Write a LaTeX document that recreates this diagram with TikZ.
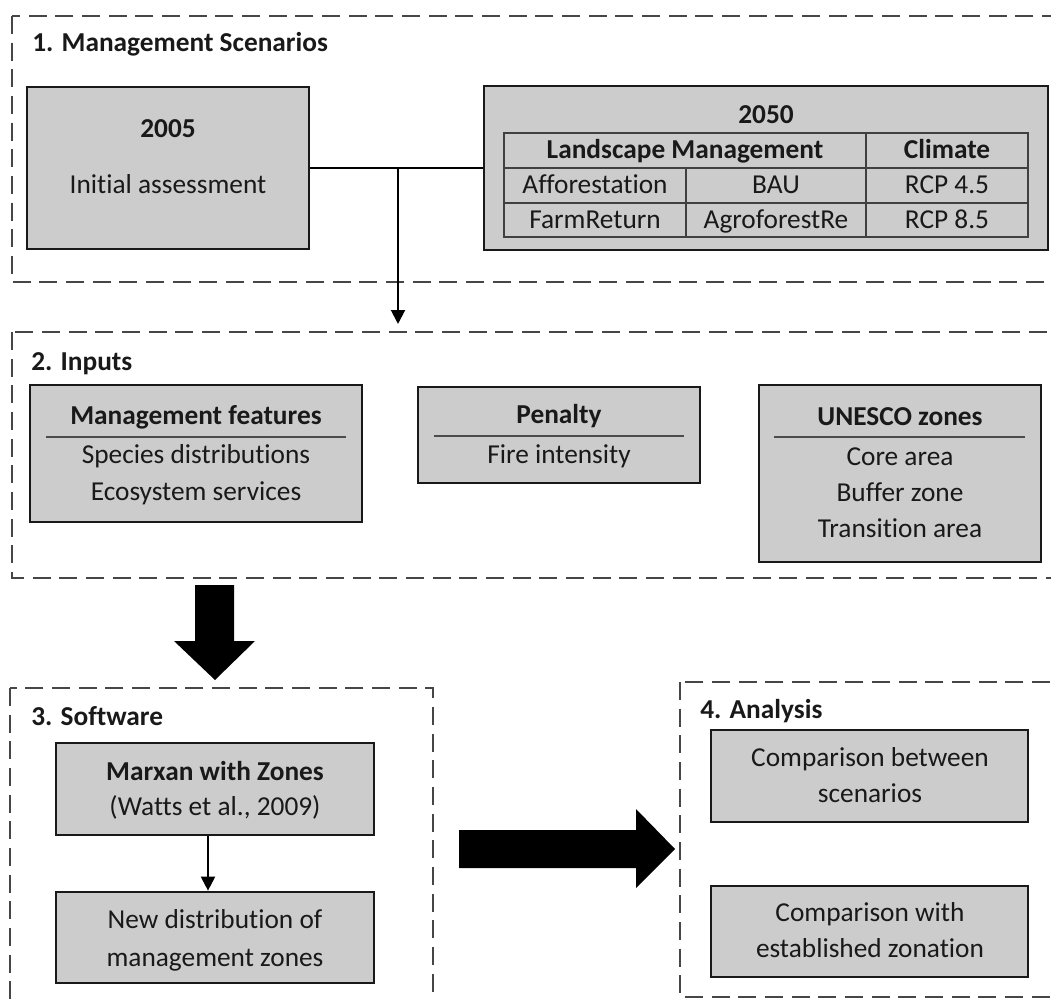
\documentclass[tikz,border=0pt]{standalone}
\usepackage{fontspec}
\setmainfont{Carlito}[Ligatures={NoCommon,NoRare}]
\usetikzlibrary{arrows.meta,fit}
\definecolor{boxfill}{RGB}{204,204,204}
\definecolor{dashcol}{RGB}{70,70,70}
\definecolor{txt}{RGB}{25,25,25}
\begin{document}
\begin{tikzpicture}[x=0.75pt,y=-0.75pt,
  sect/.style={draw=dashcol, line width=1.5pt, dash pattern=on 13.5pt off 6.5pt},
  box/.style={draw=black!90, fill=boxfill, line width=2pt, inner sep=0pt},
  lbl/.style={font=\fontsize{20.5}{24}\selectfont, text=txt, inner sep=0pt, text height=12.9pt, text depth=0pt},
  hd/.style={lbl, font=\fontsize{20.5}{24}\selectfont\bfseries},
  sep/.style={draw=black!70, line width=1.2pt},
  tline/.style={draw=black!75, line width=1.1pt},
  conn/.style={draw=black, line width=1.5pt},
  arr/.style={conn, -{Triangle[length=10.5pt,width=10.5pt]}},
  bigarrow/.style={fill=black, draw=none}
]
\useasboundingbox (0,0) rectangle (1051,999);
\clip (0,0) rectangle (1051,999);

% ---------- Section 1 ----------
\draw[sect] (12,16) rectangle (1070,282);
\node[hd, anchor=west] (title1) at (32,43) {1. Management Scenarios};

\node[box, fit={(27,87) (309,249)}] (b2005) {};
\node[hd] (t2005) at (168,129) {2005};
\node[lbl] (init) at (168,185) {Initial assessment};

\node[box, fit={(484,86) (1048,250)}] (b2050) {};
\node[hd] (t2050) at (766,115) {2050};
% table
\draw[tline] (504,133) rectangle (1028,237);
\draw[tline] (504,168) -- (1028,168);
\draw[tline] (504,203) -- (1028,203);
\draw[tline] (866,133) -- (866,237);
\draw[tline] (686,168) -- (686,237);
\node[hd] (lm) at (685,150) {Landscape Management};
\node[hd] (clim) at (947,150) {Climate};
\node[lbl] (aff) at (595,185) {Afforestation};
\node[lbl] (bau) at (776,185) {BAU};
\node[lbl] (r45) at (947,185) {RCP 4.5};
\node[lbl] (farm) at (595,220) {FarmReturn};
\node[lbl] (agro) at (776,220) {AgroforestRe};
\node[lbl] (r85) at (947,220) {RCP 8.5};

% connector
\coordinate (j) at (398,168);
\coordinate (e1) at (398,324);
\draw[conn] (b2005.east) -- (b2050.west);
\draw[arr] (j) -- (e1);

% ---------- Section 2 ----------
\draw[sect] (12,332) rectangle (1070,578);
\node[hd, anchor=west] (title2) at (31,362) {2. Inputs};

\node[box, fit={(30,385) (362,522)}] (mf) {};
\node[hd] (mfh) at (196,416) {Management features};
\draw[sep] (46,437) -- (346,437);
\node[lbl] (sp) at (196,455) {Species distributions};
\node[lbl] (es) at (196,492) {Ecosystem services};

\node[box, fit={(418,387) (700,483)}] (pen) {};
\node[hd] (penh) at (559,415) {Penalty};
\draw[sep] (434,436) -- (684,436);
\node[lbl] (fire) at (559,455) {Fire intensity};

\node[box, fit={(759,385) (1041,562)}] (un) {};
\node[hd] (unh) at (900,417) {UNESCO zones};
\draw[sep] (774,437) -- (1025,437);
\node[lbl] (core) at (900,457) {Core area};
\node[lbl] (buf) at (900,493) {Buffer zone};
\node[lbl] (tra) at (900,529) {Transition area};

% big down arrow
\fill[bigarrow] (195,585) -- (234,585) -- (234,641) -- (255,641) -- (215,680) -- (174,641) -- (195,641) -- cycle;

% ---------- Section 3 ----------
\draw[sect] (10,688) rectangle (433,1015);
\node[hd, anchor=west] (title3) at (31,717) {3. Software};

\node[box, fit={(56,743) (374,835)}] (marx) {};
\node[hd] (mx1) at (215,772) {Marxan with Zones};
\node[lbl] (mx2) at (215,807) {(Watts et al., 2009)};

\node[box, fit={(56,892) (374,983)}] (nd) {};
\node[lbl] (nd1) at (215,920) {New distribution of};
\node[lbl] (nd2) at (215,958) {management zones};

\draw[arr] ([xshift=-5.25pt]marx.south) -- ([xshift=-5.25pt]nd.north);

% big right arrow
\fill[bigarrow] (459,830) -- (636,830) -- (636,809) -- (675,849) -- (636,888) -- (636,868) -- (459,868) -- cycle;

% ---------- Section 4 ----------
\draw[sect] (680,682) rectangle (1070,997);
\node[hd, anchor=west] (title4) at (700,710) {4. Analysis};

\node[box, fit={(711,730) (1028,822)}] (a1) {};
\node[lbl] (a1a) at (870,758) {Comparison between};
\node[lbl] (a1b) at (870,794) {scenarios};

\node[box, fit={(711,886) (1028,977)}] (a2) {};
\node[lbl] (a2a) at (870,913) {Comparison with};
\node[lbl] (a2b) at (870,949) {established zonation};
\end{tikzpicture}
\end{document}
